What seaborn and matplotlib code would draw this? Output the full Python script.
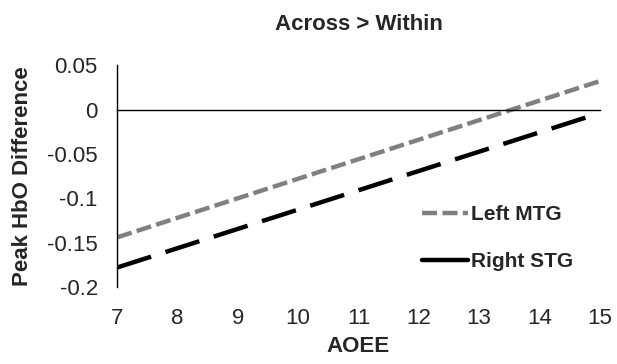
import matplotlib
matplotlib.use("Agg")
import matplotlib.pyplot as plt
import seaborn as sns
import pandas as pd
from matplotlib.lines import Line2D

aoee = [7, 15]
left_mtg = [-0.144, 0.032]
right_stg = [-0.178, -0.004]
series_names = ["Left MTG", "Right STG"]
x_ticks = [7, 8, 9, 10, 11, 12, 13, 14, 15]
y_ticks = [-0.2, -0.15, -0.1, -0.05, 0, 0.05]
y_tick_labels = ["-0.2", "-0.15", "-0.1", "-0.05", "0", "0.05"]

df = pd.DataFrame({
    "AOEE": aoee + aoee,
    "value": left_mtg + right_stg,
    "series": [series_names[0]] * 2 + [series_names[1]] * 2,
})

sns.set_style("white")
plt.rcParams["font.family"] = ["Liberation Sans", "DejaVu Sans"]

fig = plt.figure(figsize=(6.17, 3.64), dpi=100)
ax = fig.add_axes([0.19, 0.2115, 0.782, 0.6095])

sns.lineplot(data=df, x="AOEE", y="value", hue="series", style="series",
             palette={"Left MTG": "#808080", "Right STG": "#000000"},
             dashes={"Left MTG": (3.4, 1.2), "Right STG": (8, 3.4)},
             linewidth=3.2, ax=ax, legend=False)

ax.set_xlim(7, 15)
ax.set_ylim(-0.2, 0.05)

ax.spines["top"].set_visible(False)
ax.spines["right"].set_visible(False)
ax.spines["bottom"].set_position(("data", 0))
for s in ["left", "bottom"]:
    ax.spines[s].set_color("black")
    ax.spines[s].set_linewidth(1.0)

ax.set_xticks(x_ticks)
ax.tick_params(axis="x", direction="out", length=5, width=1, labelbottom=False, color="black")
ax.set_yticks(y_ticks)
ax.set_yticklabels(y_tick_labels)
ax.tick_params(axis="y", direction="in", length=5, width=1, labelsize=16, color="black", pad=14)

sec = ax.secondary_xaxis(location=0)
sec.set_xticks(x_ticks)
sec.set_xticklabels([str(v) for v in x_ticks])
sec.spines["bottom"].set_visible(False)
sec.tick_params(axis="x", length=0, labelsize=16, pad=15)

ax.set_xlabel("")
sec.set_xlabel("AOEE", fontsize=16, fontweight="bold", labelpad=5)
ax.set_ylabel("Peak HbO Difference", fontsize=16, fontweight="bold", labelpad=10)
ax.set_title("Across > Within", fontsize=16, fontweight="bold", pad=25)

handles = [
    Line2D([0], [0], color="#808080", lw=3.2, dashes=(3.4, 1.2)),
    Line2D([0], [0], color="#000000", lw=3.2),
]
leg = ax.legend(handles, series_names, loc="lower right", bbox_to_anchor=(0.945, 0.07),
                frameon=False, handlelength=2.2, handletextpad=0.15, labelspacing=1.35,
                borderpad=0, borderaxespad=0,
                prop={"weight": "bold", "size": 15})

fig.savefig("out.png", dpi=100)
